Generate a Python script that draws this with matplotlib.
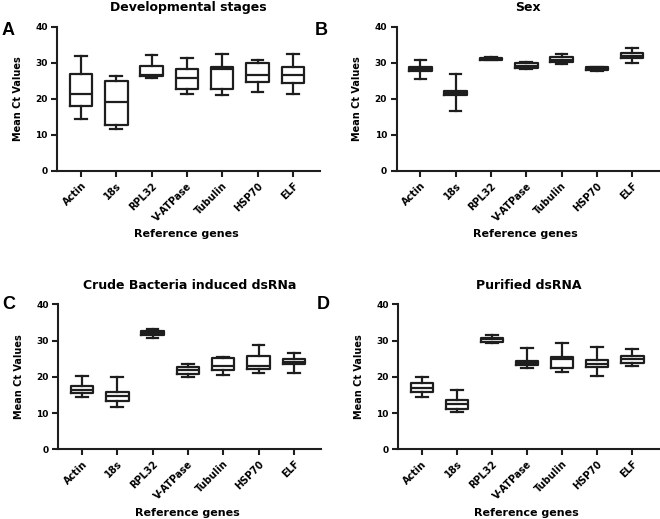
import numpy as np
import matplotlib
matplotlib.use("Agg")
import matplotlib.pyplot as plt

genes = ["Actin", "18s", "RPL32", "V-ATPase", "Tubulin", "HSP70", "ELF"]

# A - developmental stages (min, q1, median, q3, max)
dev_min = [14.4, 11.6, 25.7, 21.4, 21.0, 21.9, 21.3]
dev_q1 = [18.1, 12.8, 26.3, 22.8, 22.6, 24.6, 24.5]
dev_med = [21.3, 19.0, 26.6, 25.7, 28.3, 26.7, 26.7]
dev_q3 = [26.9, 24.9, 29.2, 28.2, 28.7, 29.8, 28.7]
dev_max = [32.0, 26.3, 32.1, 31.4, 32.3, 30.8, 32.5]

# B - sex
sex_min = [25.6, 16.6, 30.8, 28.2, 29.7, 27.8, 29.8]
sex_q1 = [27.8, 21.2, 30.9, 28.5, 30.3, 27.9, 31.2]
sex_med = [28.3, 21.7, 31.1, 29.2, 30.9, 28.3, 32.0]
sex_q3 = [28.8, 22.3, 31.4, 29.9, 31.5, 28.7, 32.6]
sex_max = [30.8, 26.9, 31.5, 30.2, 32.3, 28.9, 34.0]

# C - crude bacteria induced dsRNA
crude_min = [14.3, 11.8, 30.6, 20.0, 20.4, 21.1, 21.0]
crude_q1 = [15.6, 13.4, 31.4, 20.7, 21.9, 22.1, 23.4]
crude_med = [16.4, 14.7, 32.0, 21.9, 23.0, 23.0, 24.2]
crude_q3 = [17.5, 15.9, 32.6, 22.8, 25.3, 25.7, 24.9]
crude_max = [20.2, 20.0, 33.1, 23.5, 25.6, 28.8, 26.7]

# D - purified dsRNA
pur_min = [14.5, 10.2, 29.4, 22.3, 21.3, 20.2, 23.0]
pur_q1 = [15.8, 11.2, 29.7, 23.3, 22.3, 22.6, 23.7]
pur_med = [16.8, 12.5, 30.3, 23.8, 24.8, 23.5, 24.9]
pur_q3 = [18.4, 13.6, 30.8, 24.4, 25.6, 24.5, 25.8]
pur_max = [20.0, 16.4, 31.4, 27.9, 29.4, 28.3, 27.6]

panels = [
    ("A", "Developmental stages", dev_min, dev_q1, dev_med, dev_q3, dev_max),
    ("B", "Sex", sex_min, sex_q1, sex_med, sex_q3, sex_max),
    ("C", "Crude Bacteria induced dsRNa", crude_min, crude_q1, crude_med, crude_q3, crude_max),
    ("D", "Purified dsRNA", pur_min, pur_q1, pur_med, pur_q3, pur_max),
]

plt.rcParams['font.family'] = ['DejaVu Sans']
plt.rcParams['font.weight'] = 'bold'

W, H = 660, 519
fig = plt.figure(figsize=(W / 100, H / 100), dpi=100)

# axes rectangles in pixels: left, top, right, bottom
rects = [(57.3, 26.7, 320, 171), (396.7, 26.7, 659.3, 171),
         (58.3, 304.3, 321, 449.3), (398.3, 304.3, 659.3, 449.3)]
letter_pos = [(2, 22), (315, 22), (2, 296), (317, 296)]

lw = 1.6
ink = '#1e1e1e'
for (letter, title, mn, q1, med, q3, mx), (l, t, r, b), (lx, ly) in zip(panels, rects, letter_pos):
    ax = fig.add_axes([l / W, 1 - b / H, (r - l) / W, (b - t) / H])
    stats = []
    for i in range(len(genes)):
        stats.append(dict(whislo=mn[i], q1=q1[i], med=med[i], q3=q3[i], whishi=mx[i], fliers=[]))
    ax.bxp(stats, positions=np.arange(len(genes)), widths=0.64, showfliers=False,
           boxprops=dict(color=ink, linewidth=lw),
           medianprops=dict(color=ink, linewidth=lw),
           whiskerprops=dict(color=ink, linewidth=lw),
           capprops=dict(color=ink, linewidth=lw),
           capwidths=0.33)
    ax.set_xlim(-0.67, 6.77)
    ax.set_ylim(0, 40)
    ax.set_yticks([0, 10, 20, 30, 40])
    ax.set_xticks(np.arange(len(genes)))
    ax.set_xticklabels(genes, rotation=45, ha='right', va='top', rotation_mode='anchor',
                       fontsize=7, fontweight='bold')
    for lab in ax.get_yticklabels():
        lab.set_fontsize(6.5)
        lab.set_fontweight('bold')
    ax.spines['top'].set_visible(False)
    ax.spines['right'].set_visible(False)
    for s in ['left', 'bottom']:
        ax.spines[s].set_linewidth(1.5)
        ax.spines[s].set_color(ink)
    ax.tick_params(direction='out', length=4, width=1.5, color=ink, pad=3)
    ax.set_title(title, fontsize=9, fontweight='bold', pad=11)
    ax.set_ylabel("Mean Ct Values", fontsize=7, fontweight='bold')
    ax.yaxis.set_label_coords(-0.132, 0.5)
    ax.set_xlabel("Reference genes", fontsize=8, fontweight='bold', va='center')
    ax.xaxis.set_label_coords(0.49, -0.44)
    fig.text(lx / W, 1 - ly / H, letter, fontsize=13, fontweight='bold', va='top', ha='left',
             family='Liberation Sans')

fig.savefig("out.png", dpi=100)
